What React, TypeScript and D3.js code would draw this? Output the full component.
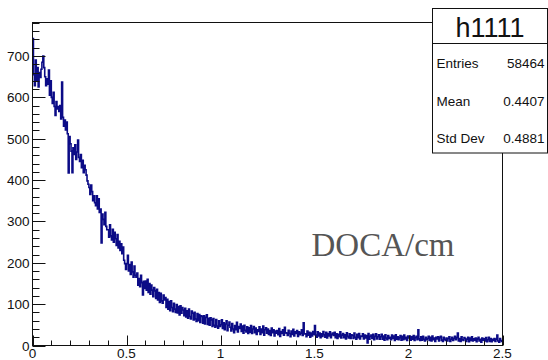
import React from "react";
import * as d3 from "d3";

// Histogram h1111: 500 bins, 0 .. 2.5 (bin width 0.005)
const xMin = 0;
const xMax = 2.5;
const counts: number[] = [
  742, 655, 628, 690, 640, 672, 625, 660, 648, 668,
  685, 700, 672, 650, 628, 645, 632, 666, 605, 640,
  600, 585, 612, 578, 556, 590, 572, 578, 566, 580,
  548, 637, 552, 530, 545, 521, 540, 512, 417, 505,
  488, 470, 418, 478, 462, 485, 450, 468, 497, 455,
  445, 462, 430, 448, 418, 436, 425, 412, 398, 390,
  382, 365, 388, 372, 350, 362, 345, 338, 362, 330,
  355, 322, 330, 248, 318, 305, 292, 322, 288, 280,
  280, 262, 292, 265, 255, 281, 250, 274, 258, 242,
  268, 236, 252, 230, 246, 222, 238, 206, 198, 184,
  198, 218, 180, 196, 172, 202, 178, 165, 192, 170,
  165, 175, 146, 162, 142, 170, 152, 122, 155, 138,
  156, 134, 160, 128, 150, 124, 146, 134, 118, 140,
  132, 114, 136, 110, 128, 104, 126, 108, 102, 122,
  110, 116, 92, 112, 88, 106, 84, 108, 92, 82,
  102, 88, 80, 99, 79, 94, 74, 96, 78, 92,
  86, 72, 90, 69, 84, 66, 88, 70, 64, 83,
  78, 62, 80, 64, 58, 77, 60, 75, 56, 72,
  70, 54, 72, 52, 68, 74, 51, 66, 49, 67,
  62, 46, 65, 49, 44, 63, 47, 42, 60, 46,
  50, 62, 41, 55, 38, 52, 60, 36, 49, 57,
  44, 35, 53, 40, 31, 48, 38, 56, 33, 46,
  41, 52, 34, 47, 30, 49, 37, 33, 45, 29,
  43, 32, 48, 29, 40, 46, 31, 42, 27, 38,
  34, 45, 27, 40, 31, 47, 25, 38, 43, 30,
  40, 27, 36, 24, 42, 31, 38, 23, 35, 30,
  36, 26, 41, 22, 34, 29, 38, 25, 44, 31,
  30, 24, 37, 29, 21, 35, 27, 39, 23, 33,
  29, 36, 22, 33, 26, 30, 38, 24, 55, 28,
  28, 21, 35, 25, 32, 20, 30, 23, 34, 27,
  48, 25, 20, 33, 23, 30, 19, 28, 22, 34,
  26, 20, 32, 18, 29, 23, 33, 19, 27, 30,
  24, 32, 19, 28, 17, 27, 21, 33, 18, 25,
  29, 19, 26, 16, 31, 22, 18, 28, 17, 26,
  24, 17, 30, 20, 15, 27, 19, 29, 16, 23,
  22, 28, 16, 25, 18, 24, 6, 29, 15, 22,
  25, 17, 27, 14, 22, 28, 16, 21, 26, 15,
  21, 27, 15, 23, 13, 26, 18, 14, 24, 17,
  20, 14, 25, 17, 23, 12, 26, 15, 21, 14,
  19, 24, 13, 22, 14, 25, 16, 20, 12, 23,
  18, 23, 13, 21, 15, 24, 12, 19, 22, 14,
  38, 16, 12, 21, 13, 22, 15, 11, 20, 14,
  17, 22, 12, 20, 11, 23, 14, 18, 10, 20,
  16, 21, 11, 19, 22, 13, 10, 20, 15, 12,
  18, 11, 17, 21, 10, 15, 20, 12, 17, 22,
  14, 19, 30, 11, 17, 10, 21, 14, 12, 19,
  17, 10, 15, 20, 9, 18, 12, 21, 11, 16,
  13, 18, 9, 16, 20, 11, 15, 8, 18, 13,
  16, 11, 19, 9, 14, 20, 10, 17, 9, 15,
  12, 17, 10, 15, 25, 11, 8, 17, 12, 10,
];

const xMajorTicks = [0, 0.5, 1, 1.5, 2, 2.5];
const xTickLabels = ["0", "0.5", "1", "1.5", "2", "2.5"];
const xMinorStep = 0.1;
const yMajorTicks = [0, 100, 200, 300, 400, 500, 600, 700];
const yMinorStep = 20;
const yMaxDomain = 781;

const histName = "h1111";
const statLabels = ["Entries", "Mean", "Std Dev"];
const statValues = ["58464", "0.4407", "0.4881"];
const axisTitle = "DOCA/cm";

const W = 548;
const H = 360;
const frame = { left: 32.5, right: 502.5, top: 22.5, bottom: 345.5 };

export default function App() {
  const x = d3.scaleLinear().domain([xMin, xMax]).range([frame.left, frame.right]);
  const y = d3.scaleLinear().domain([0, yMaxDomain]).range([frame.bottom, frame.top]);
  const nb = counts.length;
  const bw = (xMax - xMin) / nb;

  const pts: [number, number][] = [];
  counts.forEach((c, i) => {
    pts.push([xMin + i * bw, c]);
    pts.push([xMin + (i + 1) * bw, c]);
  });
  const line = d3
    .line<[number, number]>()
    .x((d) => x(d[0]))
    .y((d) => y(d[1]));
  const path = line(pts) || "";

  const xMinor: number[] = [];
  for (let v = 0; v <= xMax + 1e-9; v += xMinorStep) {
    const r = Math.round(v * 10) / 10;
    if (!xMajorTicks.some((m) => Math.abs(m - r) < 1e-9)) xMinor.push(r);
  }
  const yMinor: number[] = [];
  for (let v = 0; v <= yMaxDomain; v += yMinorStep) {
    if (v % 100 !== 0) yMinor.push(v);
  }

  const font = "'Liberation Sans', Arial, Helvetica, sans-serif";
  const box = { x: 432.5, y: 8.5, w: 115, h: 144.5, sep: 43.5 };

  return (
    <svg
      width={W}
      height={H}
      style={{ position: "absolute", left: 0, top: 0, background: "#fff" }}
    >
      <rect x={0} y={0} width={W} height={H} fill="#fff" />
      {/* histogram */}
      <path d={path} fill="none" stroke="#0b0b86" strokeWidth={1.6} strokeLinejoin="miter" />
      {/* frame */}
      <rect
        x={frame.left}
        y={frame.top}
        width={frame.right - frame.left}
        height={frame.bottom - frame.top}
        fill="none"
        stroke="#111"
        strokeWidth={1}
      />
      {/* y ticks */}
      {yMajorTicks.map((v) => (
        <line key={"ym" + v} x1={frame.left} x2={frame.left + 13} y1={Math.round(y(v)) + 0.5} y2={Math.round(y(v)) + 0.5} stroke="#111" strokeWidth={1} />
      ))}
      {yMinor.map((v) => (
        <line key={"yn" + v} x1={frame.left} x2={frame.left + 7} y1={Math.round(y(v)) + 0.5} y2={Math.round(y(v)) + 0.5} stroke="#111" strokeWidth={1} />
      ))}
      {yMajorTicks.map((v) => (
        <text key={"yl" + v} x={29.5} y={y(v) + 5} textAnchor="end" fontFamily={font} fontSize={13.5} fill="#111">
          {v}
        </text>
      ))}
      {/* x ticks */}
      {xMajorTicks.map((v) => (
        <line key={"xm" + v} x1={Math.round(x(v)) + 0.5} x2={Math.round(x(v)) + 0.5} y1={frame.bottom} y2={frame.bottom - 10} stroke="#111" strokeWidth={1} />
      ))}
      {xMinor.map((v) => (
        <line key={"xn" + v} x1={Math.round(x(v)) + 0.5} x2={Math.round(x(v)) + 0.5} y1={frame.bottom} y2={frame.bottom - 5} stroke="#111" strokeWidth={1} />
      ))}
      {xMajorTicks.map((v, i) => (
        <text key={"xl" + v} x={x(v)} y={358} textAnchor="middle" fontFamily={font} fontSize={13.5} fill="#111">
          {xTickLabels[i]}
        </text>
      ))}
      {/* stats box */}
      <rect x={box.x} y={box.y} width={box.w} height={box.h} fill="#fff" stroke="#111" strokeWidth={1} />
      <line x1={box.x} x2={box.x + box.w} y1={box.sep} y2={box.sep} stroke="#111" strokeWidth={1} />
      <text x={box.x + box.w / 2} y={36.5} textAnchor="middle" fontFamily={font} fontSize={27} fill="#111">
        {histName}
      </text>
      {statLabels.map((s, i) => (
        <text key={"sl" + i} x={436.5} y={68.3 + i * 37.5} fontFamily={font} fontSize={13.5} fill="#111">
          {s}
        </text>
      ))}
      {statValues.map((s, i) => (
        <text key={"sv" + i} x={544.5} y={68.3 + i * 37.5} textAnchor="end" fontFamily={font} fontSize={13.5} fill="#111">
          {s}
        </text>
      ))}
      {/* annotation */}
      <text x={311.5} y={256} fontFamily="'Liberation Serif', 'DejaVu Serif', serif" fontSize={33} fill="#555">
        {axisTitle}
      </text>
    </svg>
  );
}
